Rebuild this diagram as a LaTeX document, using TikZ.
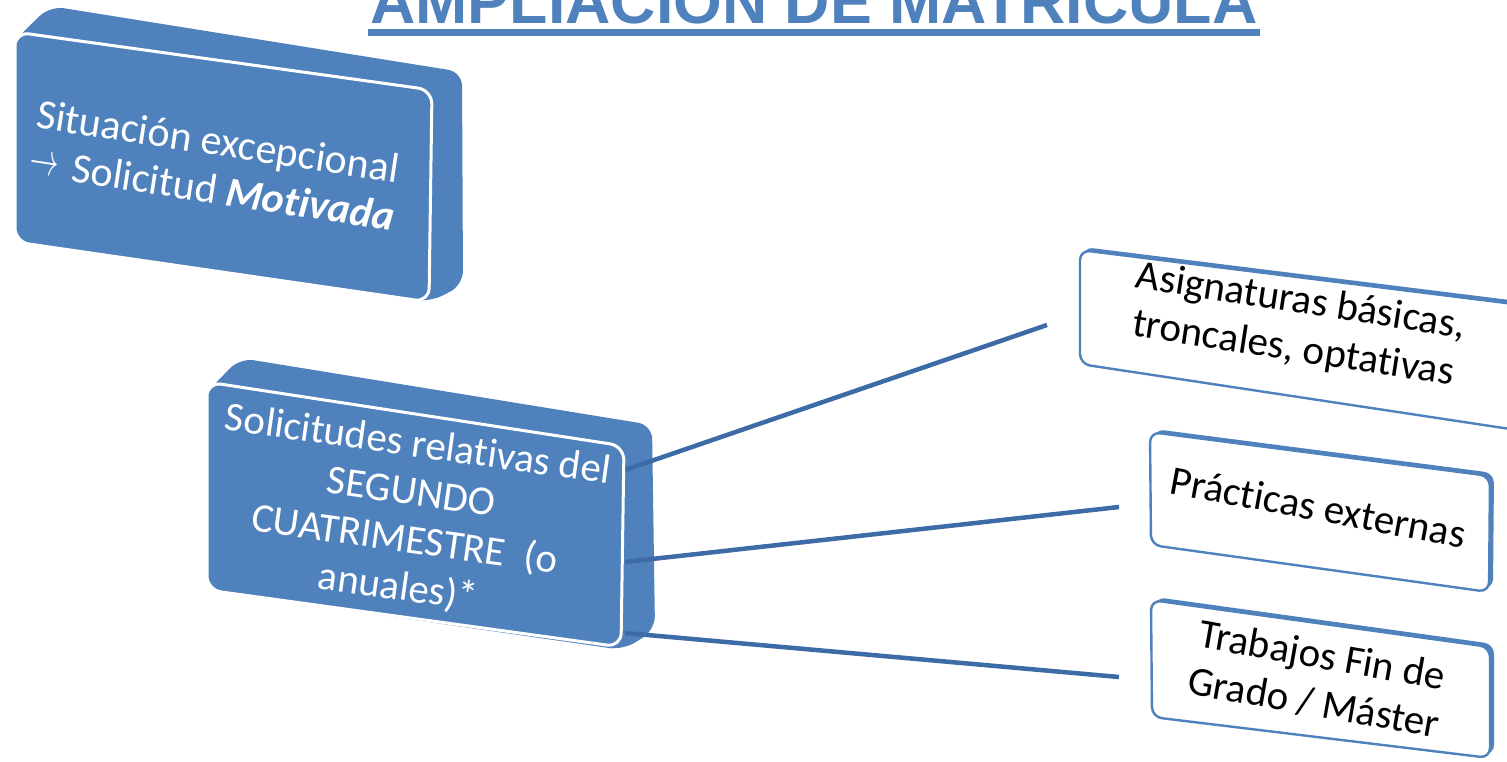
\documentclass[tikz,border=0pt]{standalone}
\usepackage{fontspec}
\setmainfont{Carlito}[Ligatures=NoCommon]
\newfontfamily\titlefont{Liberation Sans}
\definecolor{accent}{HTML}{4F81BD}
\definecolor{linkblue}{HTML}{3D6BA6}
\begin{document}
\begin{tikzpicture}[x=1pt,y=-1pt,
  blueback/.style={fill=accent, rounded corners=14pt},
  bluefront/.style={fill=accent, draw=white, line width=3pt, rounded corners=14pt},
  whiteback/.style={fill=accent, rounded corners=10pt},
  whitefront/.style={fill=white, draw=accent, line width=2.4pt, rounded corners=10pt},
  link/.style={draw=linkblue, line width=4.5pt},
  bluetext/.style={text=white, font=\fontsize{42}{48}\selectfont, inner sep=0pt},
  whitetext/.style={text=black, font=\fontsize{41}{48}\selectfont, inner sep=0pt}]
\useasboundingbox (0,0) rectangle (1507,761);
\clip (0,0) rectangle (1507,761);
\fill[white] (0,0) rectangle (1507,761);

% title
\node[anchor=base, inner sep=0pt, text=accent, font=\titlefont\bfseries\fontsize{62.7}{70}\selectfont] (title) at (814,23) {AMPLIACIÓN DE MATRÍCULA};
\fill[accent] (368,29) rectangle (1260,36);

% box 1
\fill[blueback] (15,40) -- (50,6) -- (462,72) -- (463,285) -- (430,302) -- (15,242) -- cycle;
\path[bluefront] (15,32) -- (432,90) -- (429,302) -- (15,242) -- cycle;
\node[bluetext, align=left, rotate=-8.7] (t1) at (216,165) {Situación excepcional\\\raisebox{3pt}{\resizebox{29pt}{17pt}{$\rightarrow$}}\,\,Solicitud \textbf{\textit{Motivada}}};

% box 2 back
\fill[blueback] (207,392) -- (240,358) -- (652,425) -- (655,630) -- (623,650) -- (207,590) -- cycle;

% connectors
\coordinate (s1) at (625,470);
\coordinate (s2) at (625,562);
\coordinate (s3) at (625,633);
\coordinate (eA) at (1047,325);
\coordinate (eB) at (1119,507);
\coordinate (eC) at (1119,677);
\draw[link] (s1) -- (eA);
\draw[link] (s2) -- (eB);
\draw[link] (s3) -- (eC);

% box 2 front
\path[bluefront] (207,382) -- (624,446) -- (621,647) -- (207,590) -- cycle;
\node[bluetext, font=\fontsize{41}{48}\selectfont, align=center, rotate=-8] (t2) at (408,517) {Solicitudes relativas del\\SEGUNDO\\CUATRIMESTRE\ \ (o\\anuales)*};

% white boxes
\fill[whiteback] (1083,247) -- (1534,303) -- (1534,429) -- (1083,361) -- cycle;
\path[whitefront] (1080,250) -- (1530,306) -- (1530,432) -- (1080,364) -- cycle;
\node[whitetext, align=center, rotate=-8.8] (tA) at (1297,326) {Asignaturas básicas,\\troncales, optativas};

\fill[whiteback] (1154,429) -- (1494,473) -- (1493,589) -- (1155,542) -- cycle;
\path[whitefront] (1150,432) -- (1490,476) -- (1489,592) -- (1151,545) -- cycle;
\node[whitetext, rotate=-10.5] (tB) at (1318,507) {Prácticas externas};

\fill[whiteback] (1155,597) -- (1494,644) -- (1494,755) -- (1156,714) -- cycle;
\path[whitefront] (1151,600) -- (1490,647) -- (1490,758) -- (1152,717) -- cycle;
\node[whitetext, align=center, rotate=-10] (tC) at (1318,679) {Trabajos Fin de\\Grado / Máster};
\end{tikzpicture}
\end{document}
